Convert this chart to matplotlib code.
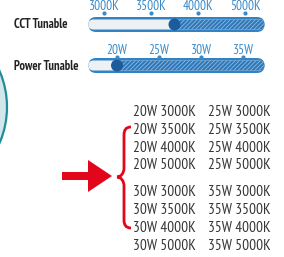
import matplotlib.pyplot as plt
from matplotlib.patches import FancyBboxPatch, Circle, PathPatch
from matplotlib.path import Path

cct_ticks = ["3000K", "3500K", "4000K", "5000K"]
power_ticks = ["20W", "25W", "30W", "35W"]
cct_knob = 1.5    # slider sits between 3500K and 4000K
power_knob = 0.0  # slider sits at 20W
watts = ["20W", "25W", "30W", "35W"]
temps = ["3000K", "3500K", "4000K", "5000K"]

plt.rcParams["font.family"] = ["PT Sans Narrow", "DejaVu Sans"]
plt.rcParams["hatch.linewidth"] = 0.6

fig = plt.figure(figsize=(2.84, 2.57), dpi=100)
ax = fig.add_axes([0, 0, 1, 1])
ax.set_xlim(0, 284)
ax.set_ylim(257, 0)
ax.axis("off")

border = "#3283c3"
inner = "#eef1f4"
fill = "#3077b8"
stripe = "#8dbbe2"
knob_c = "#1d5c9c"
tick_c = "#3a8ac8"

# round thing cut off at the left edge
ax.add_patch(Circle((-84, 107), 91, facecolor="#d3e6ec", edgecolor="#1d8e98", lw=1.6))


def slider(yc, x0, x1, first, step, labels, knob, title, lab_y, dot_y):
    h = 15
    ax.add_patch(FancyBboxPatch((x0 + h / 2, yc - h / 2), x1 - x0 - h, h,
                                boxstyle=f"round,pad=0,rounding_size={h / 2}",
                                facecolor=border, edgecolor="none"))
    ih = h - 5
    ax.add_patch(FancyBboxPatch((x0 + h / 2, yc - ih / 2), x1 - x0 - h, ih,
                                boxstyle=f"round,pad=0,rounding_size={ih / 2}",
                                facecolor=inner, edgecolor="none"))
    kx = first + knob * step
    ax.add_patch(FancyBboxPatch((kx, yc - ih / 2), x1 - h / 2 - kx, ih,
                                boxstyle=f"round,pad=0,rounding_size={ih / 2}",
                                facecolor=fill, edgecolor=stripe, lw=0, hatch="////////"))
    ax.add_patch(Circle((kx, yc), 6, facecolor=knob_c, edgecolor="none"))
    for i, lab in enumerate(labels):
        x = first + i * step
        ax.text(x, lab_y, lab, color=tick_c, fontsize=9.5, ha="center", va="baseline")
        ax.plot(x, dot_y, "o", ms=2, color=tick_c)
    ax.text(14, yc + 4, title, fontsize=9, fontweight="bold", color="#222222", va="baseline")


slider(24.5, 81, 272, 104, 47, cct_ticks, cct_knob, "CCT Tunable", 9.5, 12.5)
slider(65.5, 81, 272, 117, 42, power_ticks, power_knob, "Power Tunable", 53.5, 56.5)

# combinations list
row_y = [112, 130, 147.5, 165, 192.5, 210.5, 228, 246]
k = 0
for pair in [(0, 1), (2, 3)]:
    for t in temps:
        y = row_y[k]
        ax.text(133, y, f"{watts[pair[0]]} {t}", fontsize=11, color="#363636", va="center")
        ax.text(208, y, f"{watts[pair[1]]} {t}", fontsize=11, color="#363636", va="center")
        k += 1

red = "#e2061b"
ax.arrow(62, 176, 50, 0, width=8, head_width=32, head_length=24,
         length_includes_head=True, color=red, lw=0)

verts = [(131, 127), (126, 127), (124, 130), (124, 135),
         (124, 168),
         (124, 173), (121, 177), (117, 177),
         (121, 177), (124, 181), (124, 186),
         (124, 220),
         (124, 225), (126, 228), (131, 228)]
codes = [Path.MOVETO, Path.CURVE4, Path.CURVE4, Path.CURVE4,
         Path.LINETO,
         Path.CURVE4, Path.CURVE4, Path.CURVE4,
         Path.CURVE4, Path.CURVE4, Path.CURVE4,
         Path.LINETO,
         Path.CURVE4, Path.CURVE4, Path.CURVE4]
ax.add_patch(PathPatch(Path(verts, codes), facecolor="none", edgecolor=red, lw=2))

fig.savefig("out.png", dpi=100)
